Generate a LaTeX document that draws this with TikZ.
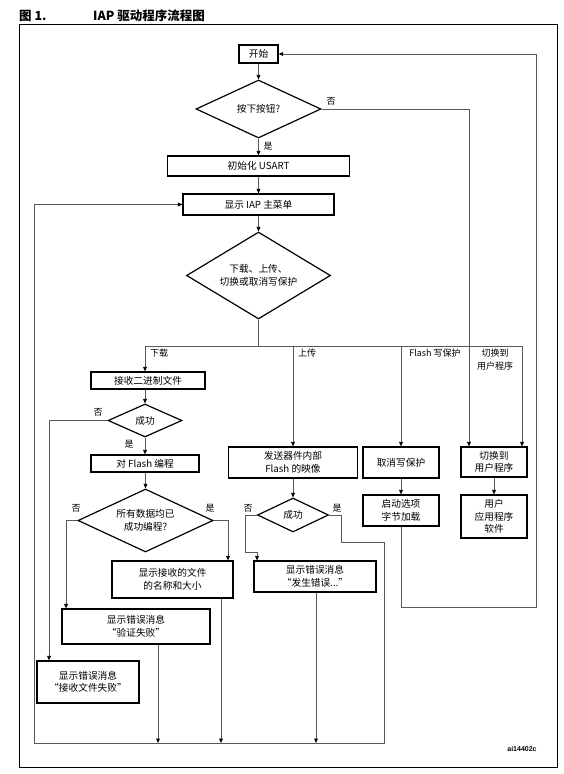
\documentclass[tikz,border=0pt]{standalone}
\usepackage{fontspec}
\setmainfont{Noto Sans CJK SC}
\newfontfamily\latf{Liberation Sans}
\usetikzlibrary{shapes.geometric,arrows.meta}
\tikzset{
  box/.style={draw=black, line width=1.2pt, inner sep=0pt, align=center,
    font=\fontsize{9.7}{12.5}\selectfont},
  dia/.style={diamond, aspect=2, draw=black, line width=1.2pt, inner sep=0pt, align=center,
    font=\fontsize{9.7}{12.5}\selectfont},
  wire/.style={draw=black!65, line width=0.8pt},
  conn/.style={wire, -{Triangle[length=4.5pt,width=3.8pt,fill=black,color=black]}},
  lab/.style={inner sep=0pt, font=\fontsize{9}{11}\selectfont},
  ttl/.style={anchor=base west, inner sep=0pt, font=\bfseries\fontsize{12.5}{14}\selectfont},
}
\begin{document}
\begin{tikzpicture}[x=1pt,y=-1pt]
\useasboundingbox (0,0) rectangle (564,774);
% frame and title
\draw[line width=1pt] (19.5,24) rectangle (557,767);
\node[ttl] (t1) at (19,20) {图 1.};
\node[ttl] (t2) at (93,20) {IAP 驱动程序流程图};
\node[inner sep=0pt, font=\latf\bfseries\fontsize{7}{8}\selectfont] (code) at (522,749) {ai14402c};

% nodes
\node[box, minimum width=39, minimum height=18] (start) at (258.5,54) {开始};
\node[dia, minimum width=125, minimum height=58] (q1) at (258.5,109) {按下按钮?};
\node[box, minimum width=182, minimum height=20] (init) at (258.5,166) {初始化 USART};
\node[box, minimum width=151, minimum height=21] (menu) at (258.5,204.5) {显示 IAP 主菜单};
\node[dia, minimum width=144, minimum height=87] (q2) at (258.5,275.5) {下载、上传、\\切换或取消写保护};

\node[box, minimum width=114, minimum height=17] (recv) at (148,380.5) {接收二进制文件};
\node[dia, minimum width=74, minimum height=33] (ok1) at (145,420.5) {成功};
\node[box, minimum width=108, minimum height=17] (prog) at (145,463.5) {对 Flash 编程};
\node[dia, minimum width=135, minimum height=63] (q3) at (145.5,520.5) {所有数据均已\\成功编程?};
\node[box, minimum width=121, minimum height=37] (info) at (172.5,579.5) {显示接收的文件\\的名称和大小};
\node[box, minimum width=148, minimum height=35] (verr) at (136,626.5) {显示错误消息\\“验证失败”};
\node[box, minimum width=102, minimum height=42] (rerr) at (88,682) {显示错误消息\\“接收文件失败”};

\node[box, minimum width=129, minimum height=31] (upl) at (293,462.5) {发送器件内部\\Flash 的映像};
\node[dia, minimum width=71, minimum height=34] (ok2) at (293,515) {成功};
\node[box, minimum width=122, minimum height=31] (gerr) at (315,576.5) {显示错误消息\\“发生错误...”};

\node[box, minimum width=76, minimum height=31] (unp) at (401,462.5) {取消写保护};
\node[box, minimum width=76, minimum height=31] (opt) at (401,510.5) {启动选项\\字节加载};

\node[box, minimum width=66, minimum height=30] (sw) at (494,462) {切换到\\用户程序};
\node[box, minimum width=66, minimum height=43] (app) at (494,516.5) {用户\\应用程序\\软件};

% labels
\node[lab] (lno1) at (331,101) {否};
\node[lab] (lyes1) at (268,146) {是};
\node[lab, anchor=west] (ldl) at (150,353) {下载};
\node[lab, anchor=west] (lul) at (298,353) {上传};
\node[lab] (lfl) at (435,353) {Flash 写保护};
\node[lab, align=center, font=\fontsize{9}{12.5}\selectfont] (lsw) at (495,359.5) {切换到\\用户程序};
\node[lab] (lno2) at (98,412) {否};
\node[lab] (lyes2) at (129,444) {是};
\node[lab] (lno3) at (76,508) {否};
\node[lab] (lyes3) at (210,508) {是};
\node[lab] (lno4) at (248,508) {否};
\node[lab] (lyes4) at (337,508) {是};

% coordinates
\coordinate (busL) at (145,346);
\coordinate (busU) at (293,346);
\coordinate (busF) at (401,346);
\coordinate (busR) at (522,346);
\coordinate (x469) at (469,0);
\coordinate (x49) at (49,0);
\coordinate (x66) at (66,0);
\coordinate (x228) at (228,0);
\coordinate (b158) at (158,743);
\coordinate (b221) at (221,743);
\coordinate (b316) at (316,743);
\coordinate (n1) at (245,552);
\coordinate (n2) at (257,552);
\coordinate (y1) at (341,542);
\coordinate (y2) at (384,743);
\coordinate (y3) at (34,743);
\coordinate (r1) at (401,607);
\coordinate (r2) at (536,607);
\coordinate (r3) at (536,54);

% connectors
\draw[conn] (start.south) -- (q1.north);
\draw[conn] (q1.south) -- (init.north);
\draw[conn] (q1.east) -| (sw.north -| x469);
\draw[conn] (init.south) -- (menu.north);
\draw[conn] (menu.south) -- (q2.north);
\draw[wire] (q2.south) -- (q2.south |- busL);
\draw[wire] (busL) -- (busR);
\draw[conn] (busL) -- (recv.north -| busL);
\draw[conn] (busU) -- (upl.north -| busU);
\draw[conn] (busF) -- (unp.north -| busF);
\draw[conn] (busR) -- (sw.north -| busR);

\draw[conn] (recv.south -| ok1.north) -- (ok1.north);
\draw[conn] (ok1.south) -- (prog.north);
\draw[conn] (ok1.west) -| (rerr.north -| x49);
\draw[conn] (prog.south -| q3.north) -- (q3.north);
\draw[conn] (q3.west) -| (verr.north -| x66);
\draw[conn] (q3.east) -| (info.north -| x228);
\draw[conn] (verr.south -| b158) -- (b158);
\draw[conn] (info.south -| b221) -- (b221);

\draw[conn] (upl.south) -- (ok2.north);
\draw[conn] (ok2.west) -| (n1) -| (gerr.north -| n2);
\draw[conn] (gerr.south -| b316) -- (b316);
\draw[conn] (ok2.east) -| (y1) -| (y2) -- (y3) |- (menu.west);

\draw[conn] (unp.south) -- (opt.north);
\draw[conn] (opt.south) -- (r1) -- (r2) -- (r3) -- (start.east);
\draw[conn] (sw.south) -- (app.north);
\end{tikzpicture}
\end{document}
